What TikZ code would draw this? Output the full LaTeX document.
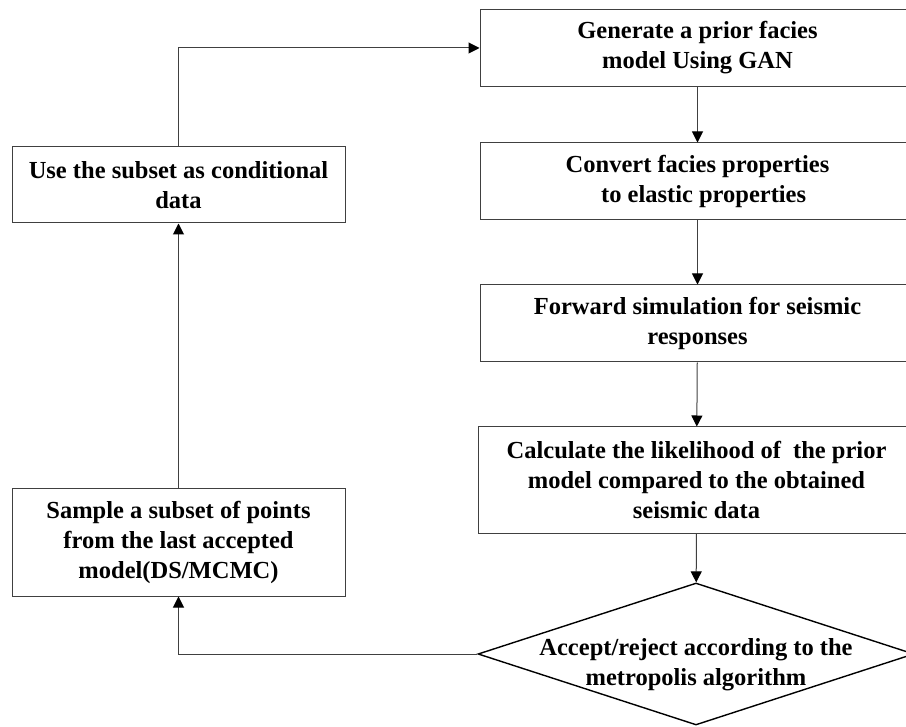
\documentclass[tikz,border=0pt]{standalone}
\usepackage{fontspec}
\setmainfont{Liberation Serif}
\usetikzlibrary{shapes.geometric,arrows.meta}

\begin{document}
\begin{tikzpicture}[x=1pt,y=-1pt,
  txt/.style={font=\bfseries\fontsize{24.5}{30}\selectfont, align=center, text=black},
  stepbox/.style={txt, rectangle, draw=black!75, line width=1pt, inner sep=0pt},
  decision/.style={diamond, draw=black, line width=1.4pt, inner sep=0pt},
  link/.style={draw=black!75, line width=1pt, -{Triangle[length=11pt,width=11pt,color=black]}}]
\useasboundingbox (0,0) rectangle (906,727);
\clip (0,0) rectangle (906,727);
% right column
\node[stepbox, minimum width=435pt, minimum height=77pt] (gan) at (697.5,48) {Generate a prior facies\\model Using GAN};
\node[stepbox, minimum width=435pt, minimum height=77pt] (elastic) at (697.5,181.5) {Convert facies properties\\\ \ to elastic properties};
\node[stepbox, minimum width=435pt, minimum height=77pt] (forward) at (697.5,323.5) {Forward simulation for seismic\\responses};
\node[stepbox, minimum width=437pt, minimum height=106pt] (likelihood) at (696.5,480) {Calculate the likelihood of\ \ the prior\\model compared to the obtained\\seismic data};
\node[decision, minimum width=436pt, minimum height=142pt,
  label={[txt, yshift=-11pt]center:Accept/reject according to the\\metropolis algorithm}] (accept) at (696,654) {};
% left column
\node[stepbox, minimum width=333pt, minimum height=76pt] (cond) at (178.5,185) {Use the subset as conditional\\data};
\node[stepbox, minimum width=333pt, minimum height=107pt] (sample) at (178.5,542.5) {Sample a subset of points\\from the last accepted\\model(DS/MCMC)};

\draw[link] (gan) -- (elastic);
\draw[link] (elastic) -- (forward);
\draw[link] (forward) -- (likelihood);
\draw[link] (likelihood) -- (accept);
\draw[link] (accept.west) -| (sample.south);
\draw[link] (sample) -- (cond);
\draw[link] (cond.north) |- (gan.west);
\end{tikzpicture}
\end{document}
